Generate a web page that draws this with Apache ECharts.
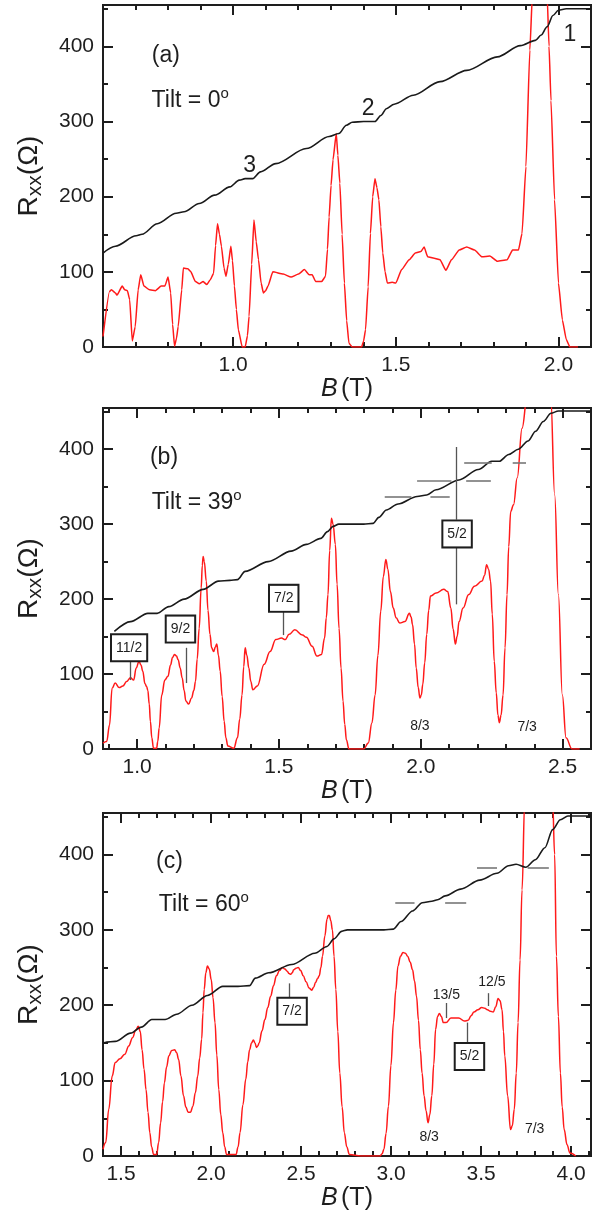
<!DOCTYPE html>
<html><head><meta charset="utf-8">
<script src="https://cdn.jsdelivr.net/npm/echarts@6/dist/echarts.min.js"></script>
<style>html,body{margin:0;padding:0;background:#fff}#c{width:600px;height:1216px}</style>
</head><body><div id="c"></div>
<script>
// ---------- Panel (a): Tilt = 0 ----------
const aRxxB = [0.600,0.620,0.626,0.638,0.643,0.659,0.667,0.675,0.682,0.690,0.699,0.708,0.716,0.726,0.743,0.761,0.779,0.790,0.800,0.808,0.814,0.820,0.826,0.831,0.842,0.847,0.861,0.870,0.884,0.896,0.908,0.919,0.929,0.940,0.946,0.952,0.958,0.964,0.972,0.978,0.985,0.993,0.998,1.004,1.010,1.016,1.028,1.037,1.044,1.049,1.057,1.064,1.071,1.078,1.086,1.093,1.100,1.107,1.122,1.154,1.178,1.201,1.219,1.234,1.243,1.254,1.272,1.284,1.290,1.295,1.301,1.307,1.317,1.322,1.328,1.335,1.342,1.349,1.356,1.366,1.395,1.401,1.407,1.415,1.422,1.429,1.436,1.442,1.448,1.454,1.460,1.467,1.474,1.489,1.500,1.518,1.541,1.560,1.577,1.587,1.598,1.618,1.636,1.654,1.671,1.695,1.718,1.742,1.765,1.789,1.812,1.842,1.859,1.877,1.888,1.900,1.912,1.920,1.942,1.965,1.971,1.977,1.988,2.000,2.012,2.024,2.035,2.060];
const aRxx  = [14,74,76,72,69,81,76,75,63,8,27,76,96,81,76,75,81,81,93,72,30,1,12,27,76,105,104,100,87,84,87,83,89,98,135,164,150,134,105,94,110,134,115,81,50,23,0,0,15,41,110,169,140,116,85,72,75,81,100,97,93,97,103,96,96,87,87,94,130,173,215,249,284,255,218,150,85,35,5,0,0,8,23,80,151,200,224,212,196,160,125,100,85,86,85,103,116,125,127,133,120,118,116,102,116,129,133,129,120,121,114,116,129,129,151,240,395,470,650,470,400,328,196,85,36,10,0,0];
const aRxyB = [0.600,0.638,0.702,0.720,0.767,0.825,0.849,0.896,0.943,0.990,1.019,1.037,1.060,1.084,1.131,1.225,1.295,1.325,1.348,1.366,1.401,1.436,1.454,1.471,1.495,1.554,1.636,1.718,1.812,1.883,1.929,1.947,1.965,1.983,2.000,2.024,2.100];
const aRxy  = [125,134,148,150,164,178,180,191,202,213,222,224,224,233,244,264,280,284,295,299,300,300,308,317,323,335,353,368,386,401,408,415,426,441,448,450,450];

// ---------- Panel (b): Tilt = 39 ----------  [B (T), Rxx (Ohm)]
const bRxxPts = [[0.880,8],[0.893,10],[0.903,32],[0.912,81],[0.923,88],[0.937,82],[0.950,84],[0.963,90],[0.977,95],[0.988,92],[0.997,108],[1.007,117],[1.014,112],[1.020,104],[1.028,87],[1.034,83],[1.038,78],[1.043,60],[1.047,37],[1.052,15],[1.058,1],[1.069,1],[1.073,10],[1.078,28],[1.087,72],[1.098,92],[1.109,97],[1.118,112],[1.125,122],[1.132,126],[1.139,124],[1.145,119],[1.152,108],[1.159,95],[1.166,78],[1.172,64],[1.182,60],[1.192,68],[1.200,78],[1.206,90],[1.212,120],[1.219,161],[1.226,215],[1.230,245],[1.233,257],[1.237,250],[1.244,224],[1.250,185],[1.257,153],[1.263,135],[1.270,130],[1.276,136],[1.281,140],[1.287,125],[1.293,104],[1.300,70],[1.307,37],[1.313,15],[1.320,4],[1.341,1],[1.354,15],[1.362,40],[1.370,72],[1.376,110],[1.381,135],[1.387,125],[1.394,108],[1.401,90],[1.408,79],[1.424,84],[1.448,113],[1.469,130],[1.489,146],[1.509,148],[1.522,146],[1.536,153],[1.556,159],[1.583,152],[1.597,149],[1.617,137],[1.634,124],[1.650,126],[1.661,148],[1.667,175],[1.673,206],[1.679,265],[1.685,308],[1.691,300],[1.699,273],[1.705,220],[1.712,161],[1.719,108],[1.726,64],[1.732,33],[1.738,12],[1.747,0],[1.799,0],[1.815,8],[1.828,35],[1.839,72],[1.849,125],[1.859,184],[1.868,230],[1.877,253],[1.884,240],[1.893,210],[1.903,188],[1.913,175],[1.926,168],[1.944,170],[1.960,181],[1.966,176],[1.971,166],[1.978,140],[1.984,108],[1.991,82],[1.997,68],[2.002,72],[2.007,86],[2.014,115],[2.021,153],[2.028,185],[2.034,204],[2.054,208],[2.081,213],[2.095,210],[2.106,188],[2.114,160],[2.122,140],[2.128,150],[2.135,170],[2.149,188],[2.169,206],[2.189,217],[2.216,224],[2.225,232],[2.232,246],[2.239,240],[2.246,224],[2.252,180],[2.259,117],[2.266,75],[2.272,45],[2.277,35],[2.283,45],[2.290,72],[2.297,135],[2.304,206],[2.310,270],[2.317,317],[2.327,326],[2.340,362],[2.357,428],[2.375,470],[2.415,640],[2.458,470],[2.472,339],[2.485,206],[2.499,72],[2.512,15],[2.533,0],[2.560,0]];
const bRxyB = [0.920,0.977,1.038,1.071,1.112,1.166,1.233,1.287,1.327,1.354,1.381,1.462,1.543,1.597,1.648,1.671,1.691,1.711,1.799,1.832,1.852,1.879,1.920,1.987,2.021,2.054,2.135,2.203,2.250,2.277,2.310,2.344,2.378,2.405,2.432,2.459,2.485,2.600];
const bRxy  = [157,170,181,181,190,200,213,224,225,226,237,250,264,273,281,290,297,300,300,301,309,319,327,337,339,346,359,373,384,384,393,400,411,424,437,448,451,451];

// ---------- Panel (c): Tilt = 60 ----------
const cRxxB = [1.400,1.415,1.432,1.451,1.468,1.494,1.521,1.543,1.564,1.582,1.596,1.607,1.617,1.628,1.639,1.650,1.660,1.670,1.681,1.698,1.709,1.720,1.731,1.741,1.753,1.766,1.782,1.798,1.809,1.820,1.833,1.847,1.860,1.873,1.886,1.899,1.913,1.926,1.937,1.948,1.955,1.962,1.971,1.980,1.990,2.001,2.011,2.022,2.032,2.043,2.054,2.065,2.076,2.086,2.139,2.150,2.161,2.177,2.193,2.204,2.214,2.225,2.235,2.244,2.252,2.260,2.267,2.283,2.299,2.315,2.331,2.347,2.363,2.380,2.395,2.410,2.423,2.433,2.442,2.451,2.459,2.472,2.484,2.498,2.512,2.528,2.544,2.559,2.570,2.580,2.591,2.601,2.610,2.619,2.632,2.644,2.651,2.657,2.665,2.674,2.683,2.693,2.704,2.715,2.728,2.740,2.754,2.768,2.832,2.938,2.950,2.960,2.972,2.985,2.999,3.013,3.026,3.038,3.052,3.066,3.079,3.092,3.106,3.119,3.130,3.141,3.152,3.162,3.172,3.183,3.194,3.205,3.215,3.226,3.237,3.247,3.258,3.268,3.279,3.290,3.305,3.332,3.375,3.407,3.428,3.444,3.460,3.482,3.503,3.520,3.535,3.551,3.567,3.581,3.594,3.605,3.616,3.624,3.631,3.647,3.663,3.673,3.684,3.695,3.705,3.716,3.727,3.742,3.820,3.897,3.908,3.918,3.929,3.940,3.950,3.961,3.977,3.993,4.025];
const cRxx  = [9,18,62,106,124,129,135,146,157,167,172,165,141,115,88,58,31,12,2,2,18,44,72,97,118,133,140,141,137,128,106,80,65,58,58,66,84,106,130,155,190,221,243,252,248,234,210,177,134,88,55,31,12,2,2,12,31,68,102,125,141,150,154,150,144,146,150,166,181,197,212,226,239,246,250,248,245,242,241,243,247,249,250,246,239,231,223,220,224,230,235,239,250,265,292,314,319,319,312,300,265,221,165,110,65,31,12,2,0,0,3,9,30,66,120,177,220,252,265,270,269,265,257,247,232,212,180,141,110,80,60,44,55,80,122,168,185,189,185,177,177,183,183,179,180,186,191,194,197,196,194,192,191,198,209,206,194,165,133,80,35,40,62,110,177,260,353,470,680,470,400,265,185,110,65,35,15,4,0];
const cRxyB = [1.400,1.468,1.553,1.613,1.671,1.745,1.809,1.894,1.980,2.065,2.150,2.214,2.246,2.320,2.448,2.576,2.644,2.683,2.725,2.757,2.960,3.013,3.055,3.119,3.173,3.226,3.258,3.300,3.386,3.492,3.588,3.652,3.694,3.748,3.801,3.854,3.897,3.940,3.982,4.110];
const cRxy  = [150,152,163,171,181,181,188,200,213,225,225,226,236,243,254,269,278,288,298,300,300,301,311,325,336,338,340,345,354,366,375,385,387,383,393,409,433,446,451,451];

// ---------- Axis ranges and tick values ----------
const xRanges = [[0.6, 2.1], [0.88, 2.6], [1.4, 4.11]];
const xMajor = [[1.0, 1.5, 2.0], [1.0, 1.5, 2.0, 2.5], [1.5, 2.0, 2.5, 3.0, 3.5, 4.0]];
const xMinor = [
  [0.7, 0.8, 0.9, 1.1, 1.2, 1.3, 1.4, 1.6, 1.7, 1.8, 1.9, 2.1],
  [0.9, 1.1, 1.2, 1.3, 1.4, 1.6, 1.7, 1.8, 1.9, 2.1, 2.2, 2.3, 2.4, 2.6],
  [1.6, 1.7, 1.8, 1.9, 2.1, 2.2, 2.3, 2.4, 2.6, 2.7, 2.8, 2.9, 3.1, 3.2, 3.3, 3.4, 3.6, 3.7, 3.8, 3.9, 4.1]
];
const yRange = [0, 455];
const yMajor = [0, 100, 200, 300, 400];
const yMinor = [50, 150, 250, 350, 450];

// ---------- Annotations (data coordinates) ----------
const panelTags = ['(a)', '(b)', '(c)'];
const tagPos = [[0.793, 387], [1.095, 389], [1.769, 390]];
const tiltText = ['0', '39', '60'];
const tiltPos = [[0.868, 328], [1.210, 329], [1.960, 334]];
const aNuLabels = ['3', '2', '1'];
const aNuPos = [[1.051, 241], [1.415, 317], [2.035, 415]];
const bBoxLabels = ['11/2', '9/2', '7/2', '5/2'];
const bBoxPos = [[0.972, 135], [1.153, 160], [1.517, 201], [2.128, 287]];
const bPlainLabels = ['8/3', '7/3'];
const bPlainPos = [[1.997, 30], [2.375, 29]];
const bLeaders = [[0.977, 117, 0.977, 92], [1.175, 135, 1.175, 88], [1.516, 184, 1.516, 152], [2.126, 269, 2.126, 193], [2.126, 306, 2.126, 403]];
const bDashes = [[1.873, 1.967, 336], [2.034, 2.102, 336], [1.987, 2.108, 358], [2.160, 2.247, 358], [2.153, 2.250, 382], [2.324, 2.371, 382]];
const cBoxLabels = ['7/2', '5/2'];
const cBoxPos = [[2.450, 192], [3.435, 132]];
const cPlainLabels = ['13/5', '12/5', '8/3', '7/3'];
const cPlainPos = [[3.307, 214], [3.560, 231], [3.211, 25], [3.797, 36]];
const cLeaders = [[2.437, 210, 2.437, 229], [3.424, 149, 3.424, 177], [3.305, 203, 3.305, 183], [3.539, 216, 3.539, 199]];
const cDashes = [[3.023, 3.130, 336], [3.300, 3.417, 336], [3.477, 3.588, 383], [3.758, 3.876, 383]];

// ---------- Build chart ----------
const FONT = '"Liberation Sans", Arial, Helvetica, sans-serif';
const INK = '#1e1e1e';
const zip = (xs, ys) => xs.map((x, i) => [x, ys[i]]);
const grids = [
  { left: 103, right: 9, top: 5, height: 342 },
  { left: 103, right: 9, top: 408, height: 341 },
  { left: 103, right: 9, top: 813, height: 343 }
];

const xAxes = [], yAxes = [];
function axisBase(gi, pos, ticks, len, labels, rng) {
  return {
    type: 'value', gridIndex: gi, position: pos, min: rng[0], max: rng[1],
    axisLine: { show: true, onZero: false, lineStyle: { color: INK, width: 2 } },
    axisTick: { show: true, inside: true, length: len, customValues: ticks, lineStyle: { color: INK, width: 2 } },
    axisLabel: labels ? { show: true, customValues: ticks, fontFamily: FONT, fontSize: 21, color: INK, margin: 8 } : { show: false },
    splitLine: { show: false }
  };
}
for (let i = 0; i < 3; i++) {
  const xm = axisBase(i, 'bottom', xMajor[i], 10, true, xRanges[i]);
  xm.axisLabel.formatter = v => v.toFixed(1);
  xm.name = '{i|B} {n|(T)}';
  xm.nameLocation = 'middle';
  xm.nameGap = 27;
  xm.nameTextStyle = { rich: {
    i: { fontFamily: FONT, fontSize: 25, fontStyle: 'italic', color: INK },
    n: { fontFamily: FONT, fontSize: 25, color: INK } } };
  xAxes.push(xm);
  xAxes.push(axisBase(i, 'bottom', xMinor[i], 5, false, xRanges[i]));
  xAxes.push(axisBase(i, 'top', xMajor[i], 10, false, xRanges[i]));
  xAxes.push(axisBase(i, 'top', xMinor[i], 5, false, xRanges[i]));

  const ym = axisBase(i, 'left', yMajor, 10, true, yRange);
  ym.axisLabel.margin = 9;
  ym.name = '{r|R}{s|xx}{r|(Ω)}';
  ym.nameLocation = 'middle';
  ym.nameRotate = 90;
  ym.nameGap = 57;
  ym.nameTextStyle = { rich: {
    r: { fontFamily: FONT, fontSize: 28, color: INK, lineHeight: 34 },
    s: { fontFamily: FONT, fontSize: 21, color: INK, lineHeight: 21, verticalAlign: 'bottom' } } };
  yAxes.push(ym);
  yAxes.push(axisBase(i, 'left', yMinor, 5, false, yRange));
  yAxes.push(axisBase(i, 'right', yMajor, 10, false, yRange));
  yAxes.push(axisBase(i, 'right', yMinor, 5, false, yRange));
}

function txt(pos, text, size) {
  return { coord: pos, value: 0, label: { formatter: text, fontSize: size } };
}
function tiltLabel(pos, deg) {
  return { coord: pos, value: 0, label: { formatter: '{m|Tilt = ' + deg + '}{s|o}',
    rich: { m: { fontFamily: FONT, fontSize: 23, color: INK, lineHeight: 28 },
            s: { fontFamily: FONT, fontSize: 15, color: INK, lineHeight: 15, verticalAlign: 'top' } } } };
}
function boxLabel(pos, text) {
  return { coord: pos, value: 0, label: { formatter: text, fontSize: 14, lineHeight: 15,
    borderColor: INK, borderWidth: 2, padding: [6, 4, 4, 4], backgroundColor: '#fff' } };
}
function seg(x1, y1, x2, y2, color, width) {
  return [{ coord: [x1, y1], lineStyle: { color: color, width: width, type: 'solid' } }, { coord: [x2, y2] }];
}

const marks = [[], [], []];
const lines = [[], [], []];
for (let i = 0; i < 3; i++) {
  marks[i].push(txt(tagPos[i], panelTags[i], 23));
  marks[i].push(tiltLabel(tiltPos[i], tiltText[i]));
}
aNuLabels.forEach((t, k) => marks[0].push(txt(aNuPos[k], t, 23)));
bLeaders.forEach(l => lines[1].push(seg(l[0], l[1], l[2], l[3], '#555', 1.3)));
bDashes.forEach(d => lines[1].push(seg(d[0], d[2], d[1], d[2], '#777', 1.6)));
bBoxLabels.forEach((t, k) => marks[1].push(boxLabel(bBoxPos[k], t)));
bPlainLabels.forEach((t, k) => marks[1].push(txt(bPlainPos[k], t, 14)));
cLeaders.forEach(l => lines[2].push(seg(l[0], l[1], l[2], l[3], '#555', 1.3)));
cDashes.forEach(d => lines[2].push(seg(d[0], d[2], d[1], d[2], '#777', 1.6)));
cBoxLabels.forEach((t, k) => marks[2].push(boxLabel(cBoxPos[k], t)));
cPlainLabels.forEach((t, k) => marks[2].push(txt(cPlainPos[k], t, 14)));

const rxxData = [zip(aRxxB, aRxx), bRxxPts, zip(cRxxB, cRxx)];
const rxyData = [zip(aRxyB, aRxy), zip(bRxyB, bRxy), zip(cRxyB, cRxy)];
const smoothRxx = [0.15, 0.4, 0.4];
const series = [];
for (let i = 0; i < 3; i++) {
  series.push({
    type: 'line', xAxisIndex: 4 * i, yAxisIndex: 4 * i, data: rxyData[i],
    showSymbol: false, smooth: 0.3, smoothMonotone: 'x', z: 3,
    lineStyle: { color: '#1a1a1a', width: 1.6 },
    markLine: { silent: true, symbol: ['none', 'none'], label: { show: false }, data: lines[i], animation: false },
    markPoint: { silent: true, symbol: 'rect', symbolSize: 1, itemStyle: { color: 'rgba(0,0,0,0)' },
      label: { show: true, position: 'inside', fontFamily: FONT, color: INK }, data: marks[i], animation: false }
  });
  series.push({
    type: 'line', xAxisIndex: 4 * i, yAxisIndex: 4 * i, data: rxxData[i],
    showSymbol: false, smooth: smoothRxx[i], smoothMonotone: 'x', z: 2,
    lineStyle: { color: '#ff1a1a', width: 1.5 }
  });
}

const chart = echarts.init(document.getElementById('c'), null, { renderer: 'canvas' });
chart.setOption({
  animation: false,
  backgroundColor: '#fff',
  grid: grids,
  xAxis: xAxes,
  yAxis: yAxes,
  series: series
});
</script></body></html>
